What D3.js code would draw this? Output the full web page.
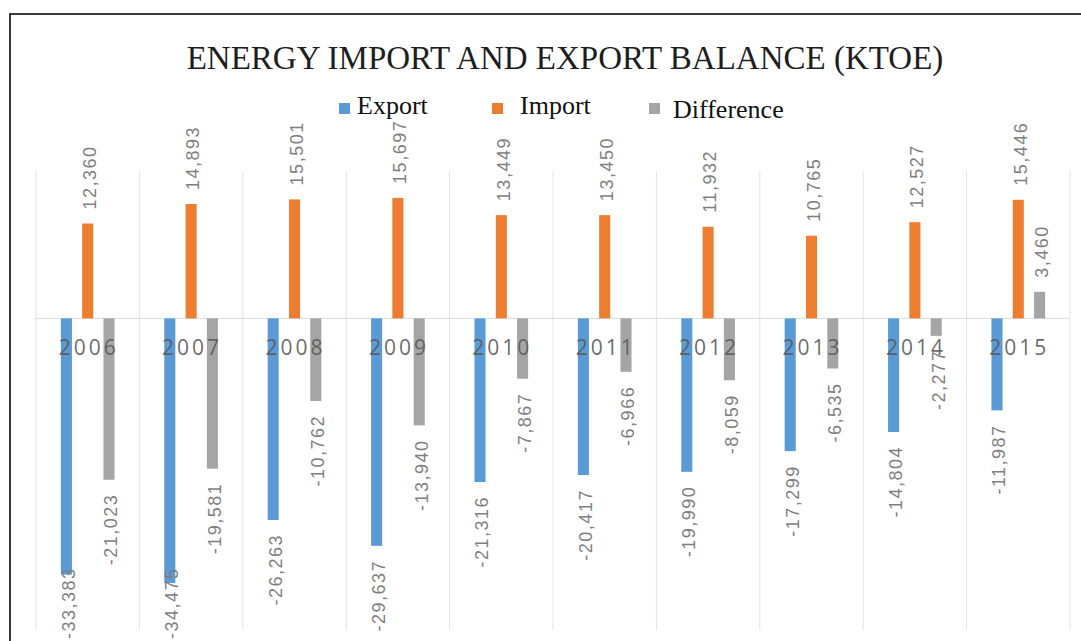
<!DOCTYPE html>
<html>
<head>
<meta charset="utf-8">
<script src="https://cdn.jsdelivr.net/npm/d3@7"></script>
<style>
  html, body { margin: 0; padding: 0; background: #fff; }
  svg { display: block; }
</style>
</head>
<body>
<svg id="chart" width="1081" height="641"></svg>
<script>
const years = ["2006","2007","2008","2009","2010","2011","2012","2013","2014","2015"];
const exportVals = [-33383,-34475,-26263,-29637,-21316,-20417,-19990,-17299,-14804,-11987];
const importVals = [12360,14893,15501,15697,13449,13450,11932,10765,12527,15446];
const diffVals = [-21023,-19581,-10762,-13940,-7867,-6966,-8059,-6535,-2277,3460];
const seriesNames = ["Export","Import","Difference"];
const seriesColors = ["#5B9BD5","#ED7D31","#A5A5A5"];
const titleText = "ENERGY IMPORT AND EXPORT BALANCE (KTOE)";

const svg = d3.select("#chart");
const W = 1081, H = 641;
const plot = {left: 36, right: 1070, top: 171, bottom: 630};

// chart frame
svg.append("rect").attr("x", 10).attr("y", 14).attr("width", 1200).attr("height", 800)
  .attr("fill", "#fff").attr("stroke", "#3a3a3a").attr("stroke-width", 2);

const x = d3.scaleBand().domain(years).range([plot.left, plot.right]).padding(0);
const y = d3.scaleLinear().domain([-40600, 19200]).range([plot.bottom, plot.top]);
const bw = x.bandwidth();
const barW = bw * 0.107;
const offsets = [0.294, 0.5, 0.706];

// vertical gridlines
const gridX = years.map(d => x(d)).concat([plot.right]);
svg.append("g").selectAll("line").data(gridX).join("line")
  .attr("x1", d => d).attr("x2", d => d)
  .attr("y1", plot.top).attr("y2", plot.bottom)
  .attr("stroke", "#e3e3e3").attr("stroke-width", 1);

// zero line
svg.append("line").attr("x1", plot.left).attr("x2", plot.right)
  .attr("y1", y(0)).attr("y2", y(0)).attr("stroke", "#dadada").attr("stroke-width", 1);

const series = [exportVals, importVals, diffVals];
const fmt = d3.formatLocale({decimal: ".", thousands: ",", grouping: [3], currency: ["", ""], minus: "-"}).format(",");

series.forEach((vals, si) => {
  const g = svg.append("g");
  g.selectAll("rect").data(vals).join("rect")
    .attr("x", (d, i) => x(years[i]) + bw * offsets[si] - barW / 2)
    .attr("width", barW)
    .attr("y", d => Math.min(y(d), y(0)))
    .attr("height", d => Math.abs(y(d) - y(0)))
    .attr("fill", seriesColors[si]);
});

// category labels
svg.append("g").selectAll("text").data(years).join("text")
  .attr("x", d => x(d) + bw / 2 + 1)
  .attr("y", y(0) + 37)
  .attr("text-anchor", "middle")
  .attr("font-family", "'Open Sans', 'DejaVu Sans', sans-serif")
  .attr("font-size", 21)
  .attr("letter-spacing", 3)
  .attr("fill", "#595959")
  .attr("fill-opacity", 0.9)
  .text(d => d);

// data labels
series.forEach((vals, si) => {
  const g = svg.append("g");
  g.selectAll("text").data(vals).join("text")
    .attr("font-family", "'Liberation Sans', 'Open Sans', sans-serif")
    .attr("font-size", 18)
    .attr("letter-spacing", 1.5)
    .attr("fill", "#7f7f7f")
    .attr("dy", "0.35em")
    .text(d => fmt(d))
    .each(function(d, i) {
      const t = d3.select(this);
      const cx = x(years[i]) + bw * offsets[si] + 2;
      const len = this.getComputedTextLength();
      let yy;
      if (d >= 0) {
        yy = y(d) - 14;
        t.attr("text-anchor", "start");
      } else {
        yy = Math.min(y(d) + 14, 639 - len);
        t.attr("text-anchor", "end");
      }
      t.attr("transform", `translate(${cx},${yy}) rotate(-90)`);
    });
});

// title
svg.append("text").attr("x", 565).attr("y", 69)
  .attr("text-anchor", "middle")
  .attr("font-family", "'Liberation Serif', 'DejaVu Serif', serif")
  .attr("font-size", 33)
  .attr("fill", "#1e1e1e")
  .text(titleText);

// legend
const legendX = [339, 492, 649];
const legendY = [114, 114, 118];
const textX = [357, 520, 673];
const lg = svg.append("g");
seriesNames.forEach((n, i) => {
  lg.append("rect").attr("x", legendX[i]).attr("y", legendY[i] - 11 - (i === 2 ? 4 : 0))
    .attr("width", 11).attr("height", 11).attr("fill", seriesColors[i]);
  lg.append("text").attr("x", textX[i]).attr("y", legendY[i])
    .attr("font-family", "'Liberation Serif', 'DejaVu Serif', serif")
    .attr("font-size", 26)
    .attr("fill", "#111")
    .text(n);
});
</script>
</body>
</html>
